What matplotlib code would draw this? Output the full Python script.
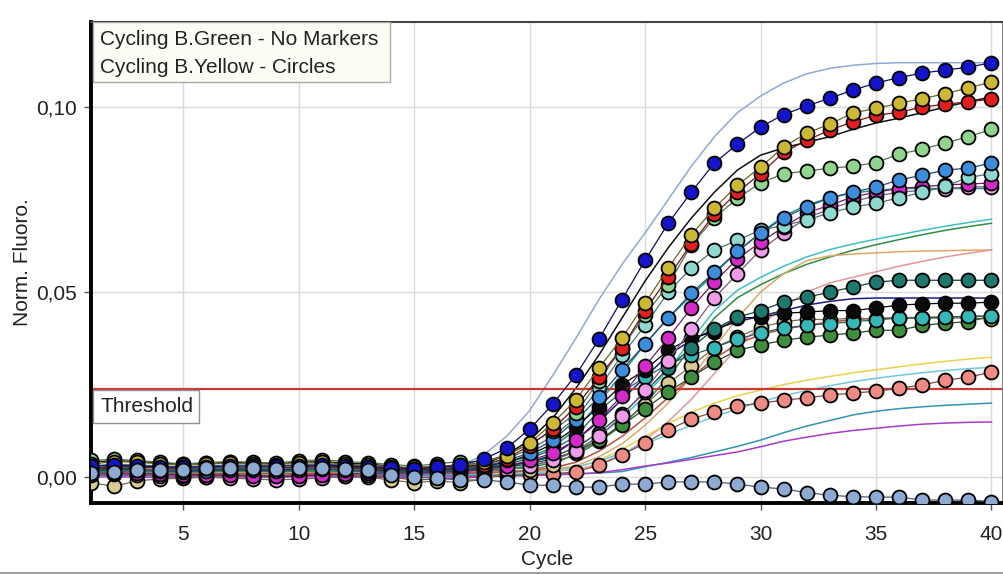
import matplotlib
matplotlib.use("Agg")
import matplotlib.pyplot as plt
from matplotlib.patches import Rectangle
import matplotlib.colors as mcolors
import numpy as np

plt.rcParams['font.family'] = ['Liberation Sans', 'DejaVu Sans']

cycles = list(range(1, 41))
threshold = 0.0238
x_ticks = [5, 10, 15, 20, 25, 30, 35, 40]
y_ticks = [0.00, 0.05, 0.10]
y_tick_labels = ["0,00", "0,05", "0,10"]
legend_lines = ["Cycling B.Green - No Markers", "Cycling B.Yellow - Circles"]

# ---- Cycling B.Yellow (circles), values in units of 1e-3 ----
yel_blue = [3.0,3.2,3.0,2.8,2.6,2.8,3.0,3.0,2.9,3.1,3.3,3.0,2.8,2.5,2.3,2.6,3.2,
            4.8,7.8,13.0,19.7,27.6,37.3,48.0,58.6,68.6,77.0,84.9,90.0,94.6,98.0,100.3,102.4,104.6,106.5,108.0,109.2,110.0,110.8,112.0]
yel_gold = [3.5,4.2,4.0,3.6,3.2,3.5,3.8,3.6,3.4,3.8,4.0,3.5,3.2,2.8,2.6,3.0,3.2,
            4.0,5.8,9.2,14.6,20.8,29.5,37.6,47.0,56.5,65.4,72.7,78.9,83.8,89.2,93.0,95.4,98.4,99.7,101.0,102.3,103.6,105.2,106.8]
yel_red = [2.4,2.8,2.6,2.5,2.3,2.4,2.6,2.5,2.4,2.7,2.9,2.6,2.4,2.2,2.0,2.3,2.7,
           3.3,5.0,8.5,13.0,19.0,27.0,35.0,45.0,54.0,63.0,71.0,77.0,82.0,87.8,91.0,93.8,96.0,97.8,98.6,100.0,100.8,101.4,102.2]
yel_lgreen = [4.5,4.8,4.5,4.0,3.6,3.9,4.2,4.0,3.8,4.4,4.7,4.2,3.9,3.4,3.0,3.6,4.2,
              4.2,6.0,9.0,12.5,17.3,26.0,35.0,43.8,52.0,62.7,70.0,75.4,79.5,82.0,82.7,83.5,84.0,85.0,87.3,88.6,90.3,92.0,94.0]
yel_mblue = [1.5,2.0,1.8,1.6,1.5,1.7,1.9,1.8,1.6,1.9,2.1,1.8,1.6,1.4,1.2,1.5,1.9,
             2.8,4.5,6.5,10.0,15.4,21.6,29.0,36.0,43.0,49.7,55.4,61.0,66.0,70.0,73.0,75.5,77.0,78.4,80.3,81.6,83.0,83.5,84.9]
yel_lcyan = [3.0,3.5,3.3,3.0,2.8,3.0,3.3,3.2,3.0,3.4,3.6,3.2,3.0,2.6,2.3,2.8,3.2,
             3.5,5.0,7.5,11.0,16.0,24.0,33.0,41.0,50.0,56.5,61.4,64.0,66.8,68.0,69.5,71.4,73.0,74.0,75.5,77.0,78.6,81.0,82.0]
yel_pink = [0.5,0.8,0.5,0.3,0.2,0.0,-0.3,-0.5,-0.8,-0.5,-0.3,0.2,0.5,0.8,0.8,1.0,1.2,
            1.5,2.0,3.0,4.5,7.0,11.0,16.5,23.5,31.5,40.0,48.4,55.0,61.4,66.0,70.0,72.5,74.5,76.0,77.0,77.5,78.0,78.4,78.5]
yel_magenta = [1.0,1.2,1.0,0.8,0.7,0.6,0.5,0.3,0.2,0.3,0.6,0.8,1.0,1.2,1.0,1.3,1.5,
               2.0,3.0,4.5,6.5,10.0,15.5,22.0,30.0,37.6,45.7,52.7,59.0,63.5,67.6,71.4,73.5,75.7,77.0,78.0,78.5,79.0,79.2,79.5]
yel_dteal = [2.0,2.5,2.2,2.0,1.8,2.0,2.3,2.2,2.0,2.5,2.8,2.4,2.1,1.8,1.5,1.8,2.2,
             2.5,3.0,4.0,5.5,8.0,12.0,17.0,23.0,29.5,35.0,40.0,43.2,45.0,47.3,48.6,50.0,51.4,52.7,53.2,53.2,53.2,53.2,53.2]
yel_black = [4.0,4.5,4.2,3.8,3.5,3.8,4.0,3.9,3.6,4.0,4.2,3.8,3.5,3.0,2.2,2.8,3.4,
             3.0,4.0,6.0,9.0,13.5,19.0,25.0,29.0,34.3,37.6,39.2,43.0,43.2,44.3,44.6,45.0,45.0,45.7,46.5,46.8,47.0,47.0,47.3]
yel_tan = [-1.5,-2.5,-1.0,-0.5,-0.3,0.0,0.2,0.0,-0.2,0.3,0.5,0.2,0.0,-0.8,-1.5,-1.0,-1.5,
           -0.5,1.0,2.0,3.2,6.5,9.7,14.6,19.5,25.4,30.0,35.0,37.8,40.5,42.0,42.7,42.5,43.0,42.7,43.0,43.0,43.0,43.0,42.7]
yel_dgreen = [1.8,2.2,2.0,1.8,1.6,1.8,2.0,1.9,1.7,2.1,2.4,2.0,1.8,1.5,1.2,1.5,1.9,
              2.2,2.8,3.5,5.0,7.0,10.0,14.0,18.5,23.0,27.0,31.0,34.3,35.7,37.0,37.8,38.4,38.9,39.7,39.7,41.0,41.6,42.0,43.5]
yel_turq = [2.5,3.0,2.8,2.5,2.3,2.5,2.8,2.6,2.4,2.8,3.1,2.7,2.4,2.0,1.7,2.0,2.5,
            2.8,3.5,5.0,7.5,11.0,18.0,23.0,27.0,30.5,33.0,35.0,37.3,39.0,40.3,41.0,41.5,42.0,42.5,43.0,43.0,43.2,43.5,43.5]
yel_salmon = [0.5,0.8,0.6,0.5,0.4,0.5,0.6,0.5,0.4,0.6,0.8,0.6,0.4,0.0,-0.8,-0.5,-0.3,
              0.0,0.3,0.6,0.9,1.4,3.2,6.0,9.2,12.7,15.7,17.6,19.2,20.0,20.8,21.4,22.2,22.7,23.2,24.0,24.9,26.2,27.0,28.4]
yel_greyblue = [1.0,1.4,1.9,1.9,2.0,2.4,2.5,2.4,2.3,2.4,2.4,2.2,1.9,0.5,0.0,-0.3,-0.8,-0.8,-1.3,
                -2.2,-2.2,-2.7,-2.7,-1.9,-1.9,-1.3,-1.3,-1.3,-1.9,-2.7,-3.2,-4.2,-4.9,-5.3,-5.4,-5.4,-6.2,-6.2,-6.2,-6.6]

# ---- Cycling B.Green (no markers), values in units of 1e-3 ----
grn_steel = [1.5,1.6,1.5,1.4,1.4,1.5,1.6,1.6,1.5,1.6,1.7,1.6,1.5,1.4,1.5,1.8,3.0,
             6.0,11.0,18.0,27.5,37.5,48.0,57.5,66.0,75.0,84.0,92.0,98.5,103.0,106.5,109.0,110.5,111.3,111.8,112.0,112.0,112.0,112.0,112.0]
grn_black = [2.0,2.1,2.0,1.9,1.9,2.0,2.1,2.1,2.0,2.1,2.2,2.1,2.0,1.9,1.9,2.0,2.4,
             3.5,6.0,10.0,16.0,24.0,33.0,43.0,53.0,62.0,70.0,77.0,83.0,87.0,89.0,90.5,92.0,94.0,95.7,97.0,98.5,100.0,101.5,102.7]
grn_cyan = [1.5,1.6,1.5,1.4,1.4,1.5,1.5,1.6,1.5,1.6,1.6,1.5,1.5,1.4,1.4,1.5,1.7,2.0,2.4,
            3.0,4.5,7.0,11.0,16.0,22.0,29.0,37.0,45.0,50.5,54.0,57.0,59.5,61.5,63.0,64.3,65.5,66.7,67.8,68.8,69.7]
grn_teal = [2.0,2.1,2.0,1.9,1.9,2.0,2.1,2.0,2.0,2.1,2.1,2.0,2.0,1.9,1.9,2.0,2.3,
            3.0,4.0,5.5,8.0,13.0,20.0,28.0,36.0,43.0,49.0,55.0,61.0,66.0,70.5,73.5,75.5,76.8,77.5,78.0,78.0,78.0,78.0,78.0]
grn_dgreen = [1.5,1.5,1.4,1.4,1.3,1.4,1.5,1.5,1.4,1.5,1.6,1.5,1.4,1.3,1.3,1.4,1.6,1.9,2.2,
              2.5,4.0,6.0,9.5,14.0,20.0,27.0,35.0,43.0,48.5,52.0,55.0,57.5,59.5,61.3,62.8,64.2,65.5,66.7,67.7,68.6]
grn_tan = [1.0,1.0,0.9,0.9,0.8,0.9,1.0,1.0,0.9,1.0,1.1,1.0,0.9,0.8,0.8,0.9,1.0,1.1,1.3,1.6,2.0,
           3.0,5.5,9.0,14.0,20.0,27.0,35.0,43.0,50.0,55.0,58.5,59.8,60.3,60.6,60.9,61.1,61.2,61.3,61.4]
grn_rose = [1.0,1.0,0.9,0.9,0.8,0.9,1.0,1.0,0.9,1.0,1.1,1.0,0.9,0.8,0.8,0.9,1.0,1.1,1.2,1.4,1.6,
            2.0,3.5,6.0,10.0,15.0,21.0,28.0,35.0,41.0,46.0,50.0,52.5,54.0,55.5,57.0,58.3,59.5,60.5,61.4]
grn_navy = [2.0,2.1,2.0,1.9,1.9,2.0,2.1,2.1,2.0,2.1,2.2,2.1,2.0,1.9,1.9,2.0,2.3,2.7,3.2,
            4.0,6.0,10.0,15.0,21.0,27.0,33.0,37.0,40.0,42.0,43.5,45.0,46.5,47.5,48.2,48.4,48.4,48.4,48.4,48.4,48.4]
grn_brown = [1.0,1.0,0.9,0.9,0.8,0.9,1.0,1.0,0.9,1.0,1.1,1.0,0.9,0.8,0.8,0.9,1.0,1.2,1.5,1.8,
             2.5,4.0,7.0,11.0,16.0,21.5,27.0,32.0,36.0,38.5,40.0,41.0,42.0,42.5,43.0,43.0,43.2,43.3,43.4,43.5]
grn_yellow = [0.5,0.5,0.4,0.4,0.4,0.5,0.5,0.5,0.4,0.5,0.6,0.5,0.4,0.4,0.4,0.5,0.5,0.6,0.8,1.0,
              1.5,2.5,4.5,7.5,11.0,14.5,17.5,20.0,22.0,23.5,25.0,26.2,27.2,28.2,29.0,29.8,30.6,31.3,31.9,32.4]
grn_skyblue = [0.5,0.5,0.4,0.4,0.4,0.5,0.5,0.5,0.4,0.5,0.6,0.5,0.4,0.4,0.4,0.5,0.5,0.6,0.8,1.0,
               1.6,2.7,4.3,6.5,9.0,11.5,14.0,16.3,18.5,20.4,22.0,23.4,24.7,25.8,26.7,27.5,28.2,28.8,29.3,29.7]
grn_blueteal = [0.5,0.5,0.4,0.4,0.4,0.5,0.5,0.5,0.4,0.5,0.6,0.5,0.4,0.4,0.4,0.5,0.5,0.5,0.6,0.7,0.8,0.9,1.1,
                1.5,2.8,4.0,5.3,6.8,8.3,10.0,12.0,13.8,15.3,16.8,17.8,18.5,19.0,19.4,19.7,20.0]
grn_purple = [0.0,0.1,0.0,-0.1,-0.1,0.0,0.0,0.1,0.0,0.1,0.1,0.0,0.0,-0.1,-0.1,0.0,0.1,0.2,0.3,0.4,0.6,0.8,
              1.2,2.0,3.0,3.8,4.8,5.8,6.8,8.2,9.7,10.8,11.8,12.6,13.2,13.8,14.3,14.6,14.8,14.9]

green_series = [
    (grn_steel, '#8FA8D6'), (grn_black, '#101010'), (grn_cyan, '#3CC0C0'),
    (grn_teal, '#22968E'), (grn_dgreen, '#2E8C46'), (grn_tan, '#DDA865'),
    (grn_rose, '#E4959A'), (grn_navy, '#1E1E80'), (grn_brown, '#B8503A'),
    (grn_yellow, '#E8D24C'), (grn_skyblue, '#74C6DE'), (grn_blueteal, '#3094B0'),
    (grn_purple, '#A83CC8'),
]
yellow_series = [
    (yel_salmon, '#EE8C84'), (yel_tan, '#D8CA92'), (yel_dgreen, '#3E8E3E'),
    (yel_turq, '#34B8B8'), (yel_black, '#0A0A0A'), (yel_dteal, '#1E7A6E'),
    (yel_pink, '#EE9CEA'), (yel_magenta, '#D42ACA'), (yel_lcyan, '#8ED8D0'),
    (yel_mblue, '#3C8EDC'), (yel_lgreen, '#90D490'), (yel_red, '#E21E1E'),
    (yel_gold, '#CDB834'), (yel_blue, '#1414CC'), (yel_greyblue, '#8CAAD2'),
]

fig = plt.figure(figsize=(10.04, 5.74), dpi=100)
ax = fig.add_axes([91/1004, 1 - 503/574, 912/1004, 481/574])

ax.set_xlim(1, 40.5)
ax.set_ylim(-0.0070, 0.1230)

ax.grid(True, color='#DADADA', linewidth=1.0)
ax.set_axisbelow(True)

for vals, col in green_series:
    ax.plot(cycles, np.array(vals) * 1e-3, color=col, linewidth=1.1, zorder=2)

ax.axhline(threshold, color='#C83A32', linewidth=1.6, zorder=2.5)

for vals, col in yellow_series:
    rgb = np.array(mcolors.to_rgb(col)) * 0.55
    ax.plot(cycles, np.array(vals) * 1e-3, color=rgb, linewidth=0.9,
            marker='o', markersize=10, markerfacecolor=col,
            markeredgecolor='#000000', markeredgewidth=1.3, zorder=3)

ax.set_xticks(x_ticks)
ax.set_yticks(y_ticks)
ax.set_yticklabels(y_tick_labels)
ax.tick_params(axis='both', direction='out', length=5, width=1, color='#555555',
               labelsize=15, labelcolor='#222222')
ax.tick_params(axis='x', pad=11)
ax.tick_params(axis='y', pad=5)

ax.set_xlabel("Cycle", fontsize=15, color='#222222', labelpad=4)
ax.set_ylabel("Norm. Fluoro.", fontsize=15, color='#222222', labelpad=3)

ax.spines['left'].set_linewidth(2.8)
ax.spines['bottom'].set_linewidth(2.8)
ax.spines['left'].set_color('#000000')
ax.spines['bottom'].set_color('#000000')
ax.spines['top'].set_linewidth(1.5)
ax.spines['right'].set_linewidth(1.3)
ax.spines['top'].set_color('#444444')
ax.spines['right'].set_color('#777777')

# legend box
ax.add_patch(Rectangle((0.002, 0.875), 0.326, 0.125, transform=ax.transAxes,
                       facecolor='#FDFDF6', edgecolor='#A8A8A8', linewidth=1.0, zorder=5))
ax.text(0.0099, 0.9626, legend_lines[0], transform=ax.transAxes, fontsize=15,
        va='center', ha='left', color='#222222', zorder=6)
ax.text(0.0099, 0.9064, legend_lines[1], transform=ax.transAxes, fontsize=15,
        va='center', ha='left', color='#222222', zorder=6)

# threshold label box
ax.add_patch(Rectangle((0.002, 0.166), 0.116, 0.069, transform=ax.transAxes,
                       facecolor='#FFFFFF', edgecolor='#909090', linewidth=1.0, zorder=5))
ax.text(0.0099, 0.200, "Threshold", transform=ax.transAxes, fontsize=15,
        va='center', ha='left', color='#222222', zorder=6)

fig.add_artist(plt.Line2D([0, 1], [0.8/574, 0.8/574], transform=fig.transFigure,
                          color='#A0A0A0', linewidth=1.5))

fig.savefig("out.png", dpi=100)
